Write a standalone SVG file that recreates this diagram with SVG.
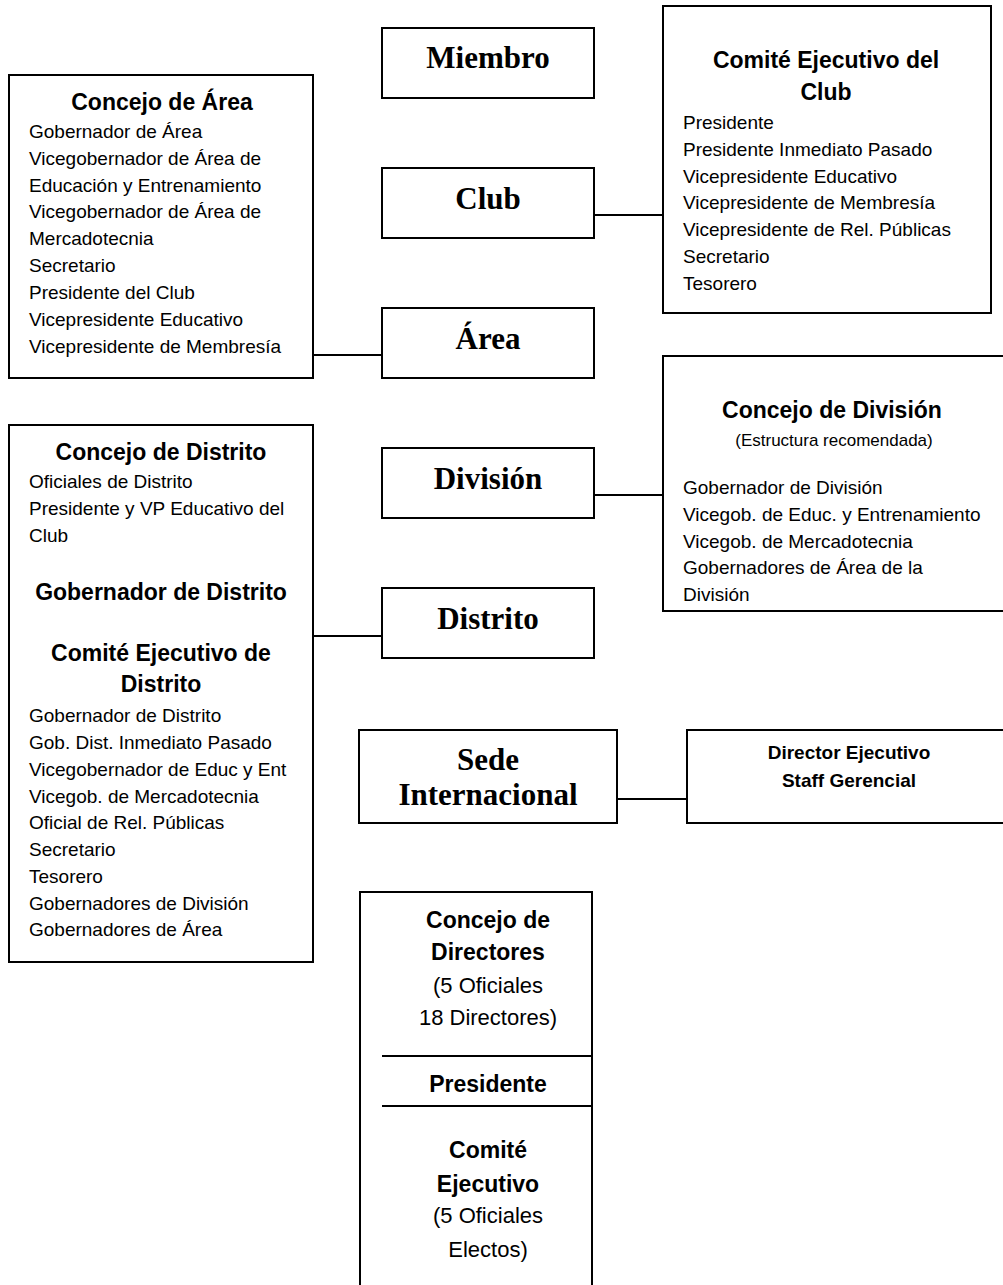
<svg xmlns="http://www.w3.org/2000/svg" width="1003" height="1285" viewBox="0 0 1003 1285">
<style>
.box{fill:#fff;stroke:#000;stroke-width:2}
.ln{stroke:#000;stroke-width:2;fill:none}
.lbl{font-family:"Liberation Serif","Times New Roman",serif;font-weight:bold;font-size:31px;text-anchor:middle;fill:#000}
.h{font-family:"Liberation Sans",Arial,sans-serif;font-weight:bold;font-size:23px;text-anchor:middle;fill:#000}
.t{font-family:"Liberation Sans",Arial,sans-serif;font-size:19px;fill:#000}
.s{font-family:"Liberation Sans",Arial,sans-serif;font-size:17px;text-anchor:middle;fill:#000}
.b17{font-family:"Liberation Sans",Arial,sans-serif;font-weight:bold;font-size:19px;text-anchor:middle;fill:#000}
.big{font-family:"Liberation Sans",Arial,sans-serif;font-size:22px;text-anchor:middle;fill:#000}
</style>
<rect width="1003" height="1285" fill="#fff"/>
<g id="connectors">
<line class="ln" x1="594" y1="215" x2="663" y2="215"/>
<line class="ln" x1="313" y1="355" x2="382" y2="355"/>
<line class="ln" x1="594" y1="495" x2="663" y2="495"/>
<line class="ln" x1="313" y1="636" x2="382" y2="636"/>
<line class="ln" x1="617" y1="799" x2="687" y2="799"/>
</g>
<g id="miembro">
<rect class="box" x="382" y="28" width="212" height="70"/>
<text class="lbl" x="488" y="68">Miembro</text>
</g>
<g id="club">
<rect class="box" x="382" y="168" width="212" height="70"/>
<text class="lbl" x="488" y="209">Club</text>
</g>
<g id="area">
<rect class="box" x="382" y="308" width="212" height="70"/>
<text class="lbl" x="488" y="349">Área</text>
</g>
<g id="division">
<rect class="box" x="382" y="448" width="212" height="70"/>
<text class="lbl" x="488" y="489">División</text>
</g>
<g id="distrito">
<rect class="box" x="382" y="588" width="212" height="70"/>
<text class="lbl" x="488" y="629">Distrito</text>
</g>
<g id="sede">
<rect class="box" x="359" y="730" width="258" height="93"/>
<text class="lbl" x="488" y="770">Sede</text>
<text class="lbl" x="488" y="805">Internacional</text>
</g>
<g id="comite-club">
<rect class="box" x="663" y="6" width="328" height="307"/>
<text class="h" x="826" y="68">Comité Ejecutivo del</text>
<text class="h" x="826" y="100">Club</text>
<text class="t" x="683" y="129">Presidente</text>
<text class="t" x="683" y="156">Presidente Inmediato Pasado</text>
<text class="t" x="683" y="183">Vicepresidente Educativo</text>
<text class="t" x="683" y="209">Vicepresidente de Membresía</text>
<text class="t" x="683" y="236">Vicepresidente de Rel. Públicas</text>
<text class="t" x="683" y="263">Secretario</text>
<text class="t" x="683" y="290">Tesorero</text>
</g>
<g id="concejo-area">
<rect class="box" x="9" y="75" width="304" height="303"/>
<text class="h" x="162" y="110">Concejo de Área</text>
<text class="t" x="29" y="138">Gobernador de Área</text>
<text class="t" x="29" y="165">Vicegobernador de Área de</text>
<text class="t" x="29" y="192">Educación y Entrenamiento</text>
<text class="t" x="29" y="218">Vicegobernador de Área de</text>
<text class="t" x="29" y="245">Mercadotecnia</text>
<text class="t" x="29" y="272">Secretario</text>
<text class="t" x="29" y="299">Presidente del Club</text>
<text class="t" x="29" y="326">Vicepresidente Educativo</text>
<text class="t" x="29" y="353">Vicepresidente de Membresía</text>
</g>
<g id="concejo-division">
<rect class="box" x="663" y="356" width="350" height="255"/>
<text class="h" x="832" y="418">Concejo de División</text>
<text class="s" x="834" y="446">(Estructura recomendada)</text>
<text class="t" x="683" y="494">Gobernador de División</text>
<text class="t" x="683" y="521">Vicegob. de Educ. y Entrenamiento</text>
<text class="t" x="683" y="548">Vicegob. de Mercadotecnia</text>
<text class="t" x="683" y="574">Gobernadores de Área de la</text>
<text class="t" x="683" y="601">División</text>
</g>
<g id="concejo-distrito">
<rect class="box" x="9" y="425" width="304" height="537"/>
<text class="h" x="161" y="460">Concejo de Distrito</text>
<text class="t" x="29" y="488">Oficiales de Distrito</text>
<text class="t" x="29" y="515">Presidente y VP Educativo del</text>
<text class="t" x="29" y="542">Club</text>
<text class="h" x="161" y="600">Gobernador de Distrito</text>
<text class="h" x="161" y="661">Comité Ejecutivo de</text>
<text class="h" x="161" y="692">Distrito</text>
<text class="t" x="29" y="722">Gobernador de Distrito</text>
<text class="t" x="29" y="749">Gob. Dist. Inmediato Pasado</text>
<text class="t" x="29" y="776">Vicegobernador de Educ y Ent</text>
<text class="t" x="29" y="803">Vicegob. de Mercadotecnia</text>
<text class="t" x="29" y="829">Oficial de Rel. Públicas</text>
<text class="t" x="29" y="856">Secretario</text>
<text class="t" x="29" y="883">Tesorero</text>
<text class="t" x="29" y="910">Gobernadores de División</text>
<text class="t" x="29" y="936">Gobernadores de Área</text>
</g>
<g id="director-ejecutivo">
<rect class="box" x="687" y="730" width="330" height="93"/>
<text class="b17" x="849" y="759">Director Ejecutivo</text>
<text class="b17" x="849" y="787">Staff Gerencial</text>
</g>
<g id="concejo-directores">
<rect class="box" x="360" y="892" width="232" height="410"/>
<text class="h" x="488" y="928">Concejo de</text>
<text class="h" x="488" y="960">Directores</text>
<text class="big" x="488" y="993">(5 Oficiales</text>
<text class="big" x="488" y="1025">18 Directores)</text>
<line class="ln" x1="382" y1="1056" x2="593" y2="1056"/>
<text class="h" x="488" y="1092">Presidente</text>
<line class="ln" x1="382" y1="1106" x2="593" y2="1106"/>
<text class="h" x="488" y="1158">Comité</text>
<text class="h" x="488" y="1192">Ejecutivo</text>
<text class="big" x="488" y="1223">(5 Oficiales</text>
<text class="big" x="488" y="1257">Electos)</text>
</g>
</svg>
